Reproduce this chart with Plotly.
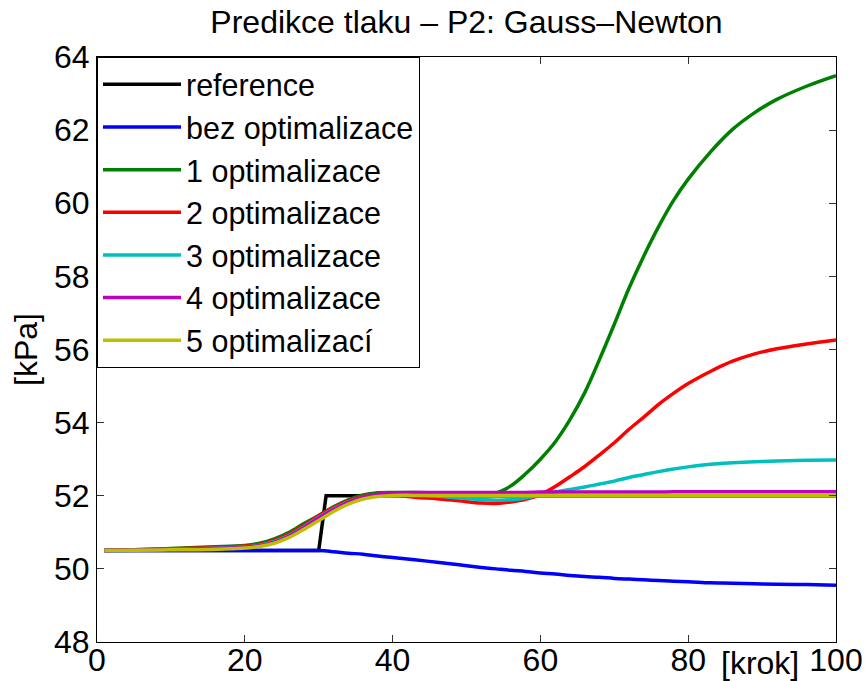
import plotly.graph_objects as go

# ---- data ----
steps = [1, 5, 10, 15, 18, 20, 22, 24, 26, 28, 30, 32, 34, 36, 38, 40,
         43, 46, 49, 52, 54, 56, 58, 60, 62, 64, 66, 68, 70, 72, 74, 76,
         78, 80, 83, 86, 89, 92, 96, 100]

ref_steps = [1, 30, 31, 100]
reference = [50.5, 50.5, 52.0, 52.0]

bez_opt = [50.50, 50.50, 50.50, 50.50, 50.50, 50.50, 50.50, 50.50, 50.50, 50.50, 50.50, 50.47, 50.43, 50.40, 50.35, 50.31,
           50.25, 50.18, 50.11, 50.04, 50.00, 49.96, 49.93, 49.89, 49.86, 49.82, 49.79, 49.77, 49.74, 49.72, 49.70, 49.68,
           49.66, 49.65, 49.62, 49.61, 49.59, 49.58, 49.57, 49.55]

opt1 = [50.50, 50.52, 50.56, 50.60, 50.62, 50.64, 50.70, 50.82, 51.00, 51.24, 51.46, 51.70, 51.89, 52.02, 52.08, 52.09,
        52.09, 52.08, 52.07, 52.06, 52.08, 52.27, 52.60, 53.00, 53.47, 54.08, 54.82, 55.73, 56.69, 57.68, 58.56, 59.36,
        60.07, 60.66, 61.40, 62.02, 62.48, 62.84, 63.20, 63.49]

opt2 = [50.50, 50.52, 50.55, 50.58, 50.60, 50.62, 50.67, 50.78, 50.95, 51.19, 51.45, 51.68, 51.86, 51.98, 52.03, 52.03,
        51.96, 51.92, 51.86, 51.80, 51.79, 51.83, 51.90, 52.03, 52.25, 52.52, 52.80, 53.12, 53.45, 53.82, 54.15, 54.50,
        54.80, 55.07, 55.40, 55.68, 55.88, 56.02, 56.15, 56.26]

opt3 = [50.50, 50.51, 50.54, 50.56, 50.58, 50.60, 50.65, 50.75, 50.92, 51.15, 51.41, 51.64, 51.83, 51.96, 52.03, 52.05,
        52.03, 51.99, 51.94, 51.90, 51.88, 51.89, 51.94, 52.02, 52.10, 52.17, 52.24, 52.32, 52.40, 52.50, 52.58, 52.66,
        52.73, 52.79, 52.86, 52.90, 52.93, 52.95, 52.97, 52.98]

opt4 = [50.50, 50.51, 50.53, 50.55, 50.57, 50.59, 50.63, 50.73, 50.90, 51.13, 51.39, 51.62, 51.82, 51.96, 52.04, 52.08,
        52.09, 52.09, 52.09, 52.09, 52.09, 52.09, 52.09, 52.10, 52.10, 52.10, 52.10, 52.10, 52.10, 52.10, 52.10, 52.10,
        52.11, 52.11, 52.11, 52.11, 52.11, 52.11, 52.11, 52.11]

opt5 = [50.50, 50.51, 50.52, 50.53, 50.55, 50.57, 50.61, 50.70, 50.86, 51.08, 51.32, 51.57, 51.77, 51.91, 51.98, 52.01,
        52.01, 52.01, 52.01, 52.01, 52.01, 52.01, 52.01, 52.01, 52.01, 52.01, 52.01, 52.01, 52.01, 52.01, 52.01, 52.01,
        52.01, 52.01, 52.01, 52.01, 52.01, 52.01, 52.01, 52.01]

names = ["reference", "bez optimalizace", "1 optimalizace", "2 optimalizace",
         "3 optimalizace", "4 optimalizace", "5 optimalizací"]
colors = ["#000000", "#0000FF", "#008000", "#FF0000", "#00BFBF", "#BF00BF", "#BFBF00"]

x_ticks = [0, 20, 40, 60, 80, 100]
y_ticks = [48, 50, 52, 54, 56, 58, 60, 62, 64]

FONT = "Liberation Sans, Arial, Helvetica, sans-serif"

fig = go.Figure()
fig.add_trace(go.Scatter(x=ref_steps, y=reference, mode="lines", name=names[0],
                         line=dict(color=colors[0], width=3.5)))
series = [bez_opt, opt1, opt2, opt3, opt4, opt5]
for i, s in enumerate(series):
    fig.add_trace(go.Scatter(x=steps, y=s, mode="lines", name=names[i + 1],
                             line=dict(color=colors[i + 1], width=3.5, shape="spline", smoothing=1.0)))

axis_common = dict(showgrid=False, zeroline=False, showline=True, linecolor="black", linewidth=1,
                   mirror="ticks", ticks="inside", ticklen=7, tickwidth=1, tickcolor="#333",
                   automargin=False,
                   tickfont=dict(family=FONT, size=32, color="black"))

fig.update_layout(
    width=866, height=681,
    margin=dict(l=97, r=30, t=57, b=39),
    paper_bgcolor="white", plot_bgcolor="white",
    font=dict(family=FONT, size=32, color="black"),
    title=dict(text="Predikce tlaku – P2: Gauss–Newton", x=0.5, xref="paper", xanchor="center",
               y=1 - 22 / 681, yref="container", yanchor="middle",
               font=dict(family=FONT, size=32, color="black")),
    xaxis=dict(range=[0, 100], tickvals=x_ticks, ticklabelstandoff=-10, **axis_common),
    yaxis=dict(range=[48, 64], tickvals=y_ticks,
               title=dict(text="[kPa]", standoff=6, font=dict(family=FONT, size=32)),
               **axis_common),
    legend=dict(x=0, y=1, xanchor="left", yanchor="top", bgcolor="white",
                bordercolor="black", borderwidth=1, itemwidth=78,
                font=dict(family=FONT, size=30.5, color="black"), tracegroupgap=0),
    showlegend=True,
)

fig.add_annotation(text="[krok]", x=89.7, xref="x", y=0, yref="paper", yanchor="middle",
                   showarrow=False, yshift=-21, font=dict(family=FONT, size=32, color="black"))

fig.write_html("out.html")
